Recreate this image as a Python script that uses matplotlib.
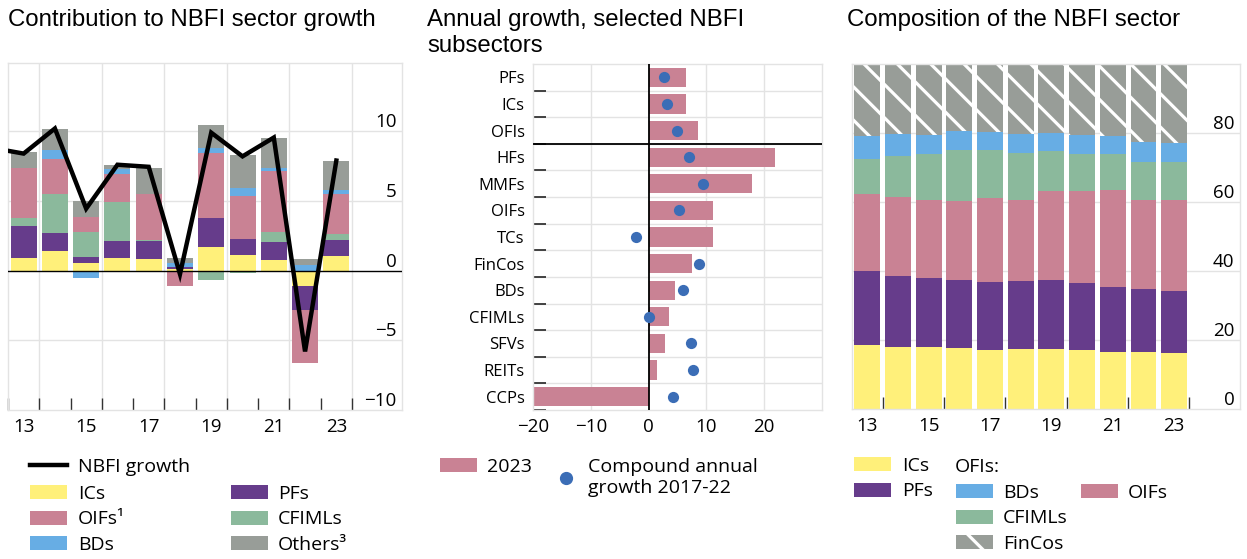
import numpy as np
import matplotlib
matplotlib.use("Agg")
import matplotlib.pyplot as plt
from matplotlib.patches import Patch
from matplotlib.lines import Line2D

plt.rcParams['font.family'] = ['Open Sans', 'DejaVu Sans']
plt.rcParams['hatch.linewidth'] = 2.3
plt.rcParams['axes.unicode_minus'] = True

# ---------------- data ----------------
# Panel 1: contribution to NBFI sector growth (percentage points)
years = [13, 14, 15, 16, 17, 18, 19, 20, 21, 22, 23]
line_years = [12, 13, 14, 15, 16, 17, 18, 19, 20, 21, 22, 23]
nbfi_growth = [8.8, 8.4, 10.2, 4.45, 7.6, 7.45, -0.25, 9.9, 8.2, 9.55, -5.8, 7.9]
contrib_ics = [0.89, 1.42, 0.53, 0.94, 0.84, 0.12, 1.73, 1.15, 0.79, -1.13, 1.03]
contrib_pfs = [2.28, 1.27, 0.48, 1.20, 1.32, 0.12, 2.02, 1.15, 1.25, -1.68, 1.20]
contrib_cfimls = [0.63, 2.79, 1.75, 2.79, 0.07, 0.00, -0.65, -0.15, 0.70, 0.00, 0.41]
contrib_oifs = [3.53, 2.52, 1.08, 1.97, 3.25, -1.13, 4.66, 3.03, 4.40, -3.85, 2.88]
contrib_bds = [0.00, 0.65, -0.55, 0.36, 0.00, 0.29, 0.41, 0.60, 0.26, 0.43, 0.29]
contrib_others = [1.15, 1.49, 1.13, 0.31, 1.92, 0.38, 1.63, 2.40, 2.09, 0.43, 2.07]

# Panel 2: annual growth, selected subsectors (%)
subsectors = ['PFs', 'ICs', 'OFIs', 'HFs', 'MMFs', 'OIFs', 'TCs', 'FinCos',
              'BDs', 'CFIMLs', 'SFVs', 'REITs', 'CCPs']
growth_2023 = [6.5, 6.5, 8.6, 21.9, 17.9, 11.2, 11.2, 7.5, 4.6, 3.5, 2.9, 1.4, -20.5]
cagr_2017_22 = [2.7, 3.1, 4.9, 7.0, 9.4, 5.3, -2.1, 8.8, 5.9, 0.0, 7.4, 7.6, 4.2]

# Panel 3: composition of the NBFI sector (% of total)
share_ics = [18.6, 18.1, 17.9, 17.6, 17.1, 17.4, 17.4, 17.1, 16.5, 16.4, 16.2]
share_pfs = [21.4, 20.5, 20.0, 19.8, 19.8, 19.8, 20.0, 19.5, 19.0, 18.4, 18.1]
share_oifs = [22.2, 22.9, 22.6, 22.9, 24.4, 23.3, 25.7, 26.5, 28.1, 25.7, 26.4]
share_cfimls = [10.3, 11.7, 13.3, 14.7, 13.7, 13.8, 11.7, 10.9, 10.4, 11.1, 10.9]
share_bds = [6.6, 6.6, 5.7, 5.5, 5.3, 5.5, 5.2, 5.3, 5.0, 5.8, 5.5]
share_fincos = [20.9, 20.2, 20.5, 19.5, 19.7, 20.2, 20.0, 20.7, 21.0, 22.6, 22.9]

# ---------------- styles ----------------
C_YEL = '#FFF07A'
C_PUR = '#663C8B'
C_PNK = '#C98294'
C_GRN = '#8BB99C'
C_BLU = '#67ADE4'
C_GRY = '#989D98'
C_DOT = '#3B6DB6'
GRID = '#E3E3E3'
TICKC = '#333333'
FS = 13.5       # tick labels
LFS = 14        # legend text
CFS = 12        # category labels
TITLE_FONT = ['Liberation Sans', 'DejaVu Sans']
TFS = 17.3

W, H = 1247, 559
fig = plt.figure(figsize=(W / 100, H / 100), dpi=100)


def add_ax(left, top, right, bottom):
    return fig.add_axes([left / W, 1 - bottom / H, (right - left) / W, (bottom - top) / H])


def style_frame(ax):
    for s in ax.spines.values():
        s.set_color(GRID)
        s.set_linewidth(1.0)


def right_inside_labels(ax, ticks, labels):
    ax.set_yticks(ticks)
    ax.set_yticklabels(labels)
    ax.yaxis.tick_right()
    ax.tick_params(axis='y', length=0, pad=-4, labelsize=FS, colors='black')
    for lab in ax.get_yticklabels():
        lab.set_ha('right')
        lab.set_va('bottom')


# ================= Panel 1 =================
ax1 = add_ax(8, 63, 402, 410)
style_frame(ax1)
x = np.array(years, dtype=float)
series = [(contrib_ics, C_YEL), (contrib_pfs, C_PUR), (contrib_cfimls, C_GRN),
          (contrib_oifs, C_PNK), (contrib_bds, C_BLU), (contrib_others, C_GRY)]
pos_base = np.zeros(len(years))
neg_base = np.zeros(len(years))
for vals, col in series:
    v = np.array(vals, dtype=float)
    pos = np.where(v > 0, v, 0)
    neg = np.where(v < 0, v, 0)
    ax1.bar(x, pos, 0.83, bottom=pos_base, color=col, linewidth=0, zorder=2)
    ax1.bar(x, neg, 0.83, bottom=neg_base, color=col, linewidth=0, zorder=2)
    pos_base += pos
    neg_base += neg
ax1.plot(line_years, nbfi_growth, color='black', lw=3.2, zorder=4,
         solid_joinstyle='miter')
ax1.axhline(0, color='black', lw=1.0, zorder=3)
ax1.set_xlim(12.5, 25.1)
ax1.set_ylim(-10, 14.9)
for yv in [-5, 5, 10]:
    ax1.axhline(yv, color=GRID, lw=1.0, zorder=0)
for xv in np.arange(13.5, 24, 2):
    ax1.axvline(xv, color=GRID, lw=1.0, zorder=0)
ax1.set_xticks(np.arange(12.5, 24, 1.0))
ax1.set_xticklabels([])
ax1.tick_params(axis='x', which='major', direction='in', length=9, width=1.0, color=TICKC)
ax1.set_xticks([13, 15, 17, 19, 21, 23], minor=True)
ax1.set_xticklabels(['13', '15', '17', '19', '21', '23'], minor=True)
ax1.tick_params(axis='x', which='minor', length=0, pad=6, labelsize=FS)
right_inside_labels(ax1, [-10, -5, 0, 5, 10], ['\u221210', '\u22125', '0', '5', '10'])
fig.text(8 / W, 1 - 20 / H, 'Contribution to NBFI sector growth', family=TITLE_FONT,
         fontsize=TFS, va='center', ha='left')

# ================= Panel 2 =================
ax2 = add_ax(533, 64, 822, 410)
style_frame(ax2)
yy = np.arange(len(subsectors))
ax2.barh(yy, growth_2023, 0.72, color=C_PNK, linewidth=0, zorder=2)
ax2.scatter(cagr_2017_22, yy, s=65, color=C_DOT, zorder=4, linewidths=0)
ax2.set_xlim(-20, 30)
ax2.set_ylim(len(subsectors) - 0.5, -0.5)
ax2.axvline(0, color='black', lw=1.3, zorder=3)
ax2.axhline(2.5, color='black', lw=1.3, zorder=3)
for xv in [-10, 10, 20]:
    ax2.axvline(xv, color=GRID, lw=1.0, zorder=0)
for yv in np.arange(0.5, len(subsectors) - 1, 1.0):
    ax2.axhline(yv, color=GRID, lw=1.0, zorder=0)
ax2.set_yticks(yy)
ax2.set_yticklabels(subsectors)
ax2.tick_params(axis='y', which='major', length=0, pad=6, labelsize=CFS)
ax2.set_yticks(np.arange(0.5, len(subsectors), 1.0), minor=True)
ax2.tick_params(axis='y', which='minor', direction='in', length=9.5, width=1.3, color=TICKC)
ax2.set_xticks([-20, -10, 0, 10, 20])
ax2.set_xticklabels(['\u221220', '\u221210', '0', '10', '20'])
ax2.tick_params(axis='x', length=0, pad=6, labelsize=FS)
fig.text(427 / W, 1 - 20 / H, 'Annual growth, selected NBFI', family=TITLE_FONT,
         fontsize=TFS, va='center', ha='left')
fig.text(427 / W, 1 - 46 / H, 'subsectors', family=TITLE_FONT,
         fontsize=TFS, va='center', ha='left')

# ================= Panel 3 =================
ax3 = add_ax(852, 64, 1240, 409)
style_frame(ax3)
comp = [(share_ics, C_YEL, None), (share_pfs, C_PUR, None), (share_oifs, C_PNK, None),
        (share_cfimls, C_GRN, None), (share_bds, C_BLU, None), (share_fincos, C_GRY, '\\')]
base = np.zeros(len(years))
for vals, col, hatch in comp:
    v = np.array(vals, dtype=float)
    if hatch:
        ax3.bar(x, v, 0.84, bottom=base, facecolor=col, edgecolor='white', hatch=hatch,
                linewidth=0, zorder=2)
    else:
        ax3.bar(x, v, 0.84, bottom=base, color=col, linewidth=0, zorder=2)
    base += v
ax3.set_xlim(12.5, 25.15)
ax3.set_ylim(0, 100)
for yv in [20, 40, 60, 80]:
    ax3.axhline(yv, color=GRID, lw=1.0, zorder=0)
ax3.set_xticks(np.arange(13.5, 24, 2.0))
ax3.set_xticklabels([])
ax3.tick_params(axis='x', which='major', direction='in', length=9, width=1.0, color=TICKC)
ax3.set_xticks([13, 15, 17, 19, 21, 23], minor=True)
ax3.set_xticklabels(['13', '15', '17', '19', '21', '23'], minor=True)
ax3.tick_params(axis='x', which='minor', length=0, pad=6, labelsize=FS)
right_inside_labels(ax3, [0, 20, 40, 60, 80], ['0', '20', '40', '60', '80'])
fig.text(847 / W, 1 - 20 / H, 'Composition of the NBFI sector', family=TITLE_FONT,
         fontsize=TFS, va='center', ha='left')

# ================= Legends =================
FSPX = LFS * 100 / 72
HL = 37 / FSPX
HH = 14 / FSPX


def legend_at(handles, labels, x_px, y_px, hlen=HL, htp=0.55):
    leg = fig.legend(handles, labels, loc='upper left',
                     bbox_to_anchor=(x_px / W, 1 - y_px / H),
                     frameon=False, fontsize=LFS, borderpad=0, borderaxespad=0,
                     handlelength=hlen, handleheight=HH, handletextpad=htp,
                     labelspacing=0.38)
    return leg


def patch(col, hatch=None):
    if hatch:
        return Patch(facecolor=col, edgecolor='white', hatch=hatch, linewidth=0)
    return Patch(facecolor=col, edgecolor='none', linewidth=0)


# Panel 1 legend
legend_at([Line2D([], [], color='black', lw=3.2)], ['NBFI growth'], 30, 458)
legend_at([patch(C_YEL), patch(C_PNK), patch(C_BLU)], ['ICs', 'OIFs\u00b9', 'BDs'], 30, 485)
legend_at([patch(C_PUR), patch(C_GRN), patch(C_GRY)], ['PFs', 'CFIMLs', 'Others\u00b3'],
          231, 485, htp=0.5)

# Panel 2 legend
legend_at([patch(C_PNK)], ['2023'], 440, 458, htp=0.5)
legend_at([Line2D([], [], ls='none', marker='o', ms=8.5, color=C_DOT)],
          ['Compound annual\ngrowth 2017-22'], 554, 458, hlen=1.2, htp=0.55)

# Panel 3 legend
legend_at([patch(C_YEL), patch(C_PUR)], ['ICs', 'PFs'], 854, 457)
fig.text(955 / W, 1 - 467 / H, 'OFIs:', fontsize=LFS, va='center', ha='left')
legend_at([patch(C_BLU), patch(C_GRN), patch(C_GRY, '\\')], ['BDs', 'CFIMLs', 'FinCos'],
          956, 484, htp=0.5)
legend_at([patch(C_PNK)], ['OIFs'], 1081, 484, htp=0.5)

fig.savefig('out.png', dpi=100)
